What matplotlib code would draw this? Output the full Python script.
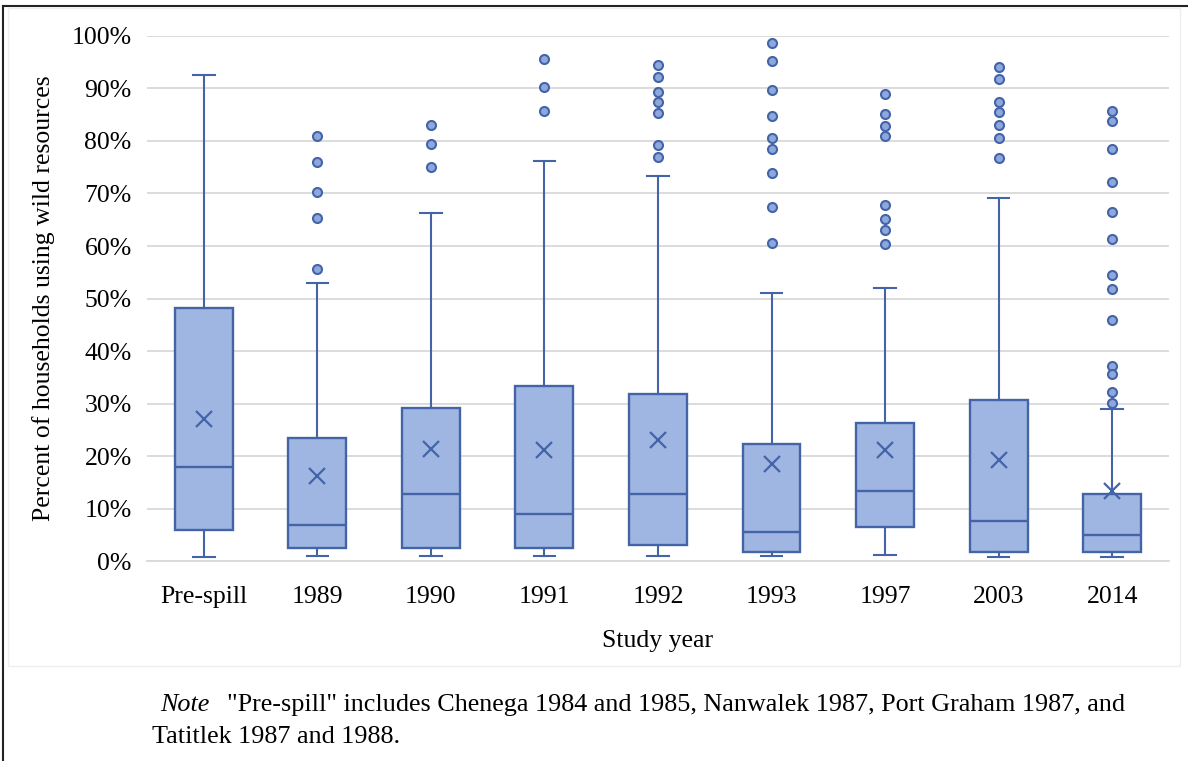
import matplotlib
matplotlib.use("Agg")
import matplotlib.pyplot as plt
from matplotlib.ticker import PercentFormatter
from matplotlib.patches import Rectangle
from matplotlib.lines import Line2D

plt.rcParams['font.family'] = ['Liberation Serif', 'DejaVu Serif']

# box plot summary values (percent of households)
years = ["Pre-spill", "1989", "1990", "1991", "1992", "1993", "1997", "2003", "2014"]
whisker_low = [0.8, 0.9, 0.9, 0.9, 1.0, 0.9, 1.2, 0.7, 0.7]
q1 = [5.9, 2.5, 2.5, 2.5, 3.0, 1.7, 6.4, 1.7, 1.8]
median = [17.9, 6.8, 12.8, 9.0, 12.8, 5.5, 13.4, 7.6, 4.9]
q3 = [48.1, 23.4, 29.1, 33.3, 31.9, 22.2, 26.2, 30.6, 12.8]
whisker_high = [92.5, 53.0, 66.3, 76.2, 73.3, 51.1, 52.0, 69.1, 29.0]
means = [27.1, 16.1, 21.4, 21.2, 23.0, 18.5, 21.1, 19.2, 13.4]
outliers = [
    [],
    [80.9, 76.0, 70.2, 65.4, 55.7],
    [83.1, 79.5, 75.1],
    [95.7, 90.2, 85.7],
    [94.5, 92.2, 89.4, 87.5, 85.4, 79.3, 77.0],
    [98.6, 95.2, 89.8, 84.8, 80.5, 78.5, 73.9, 67.5, 60.5],
    [89.0, 85.1, 82.9, 80.9, 67.9, 65.1, 63.0, 60.4],
    [94.1, 91.9, 87.5, 85.6, 83.1, 80.6, 76.8],
    [85.8, 83.8, 78.4, 72.2, 66.4, 61.3, 54.4, 51.8, 46.0, 37.1, 35.7, 32.1, 30.1],
]

edge = '#4464A8'
fill = '#A0B6E2'

stats = []
for i, y in enumerate(years):
    stats.append(dict(label=y, whislo=whisker_low[i], q1=q1[i], med=median[i],
                      q3=q3[i], whishi=whisker_high[i], mean=means[i],
                      fliers=outliers[i]))

fig = plt.figure(figsize=(11.88, 7.61), dpi=100)
ax = fig.add_axes([0.1237, 0.2628, 0.8603, 0.6899])

ax.bxp(stats, positions=range(len(years)), widths=0.51, capwidths=0.19,
       patch_artist=True, showmeans=True,
       boxprops=dict(facecolor=fill, edgecolor=edge, linewidth=1.7),
       medianprops=dict(color=edge, linewidth=1.7),
       whiskerprops=dict(color=edge, linewidth=1.5),
       capprops=dict(color=edge, linewidth=1.5),
       meanprops=dict(marker='x', markeredgecolor=edge, markersize=12,
                      markeredgewidth=1.6),
       flierprops=dict(marker='o', markerfacecolor='#8FA8DC', markeredgecolor=edge,
                       markersize=6.5, markeredgewidth=1.5))

ax.set_ylim(0, 100)
ax.set_xlim(-0.5, len(years) - 0.5)
ax.set_yticks(range(0, 101, 10))
ax.yaxis.set_major_formatter(PercentFormatter(decimals=0))
ax.grid(axis='y', color='#D9D9D9', linewidth=1.3)
ax.set_axisbelow(True)
for s in ['top', 'right', 'left']:
    ax.spines[s].set_visible(False)
ax.spines['bottom'].set_color('#D9D9D9')
ax.spines['bottom'].set_linewidth(1.3)
ax.tick_params(length=0, labelsize=18.5, colors='black')
ax.tick_params(axis='y', pad=11)
ax.tick_params(axis='x', pad=18)
ax.set_xticklabels(years)
ax.set_ylabel("Percent of households using wild resources", fontsize=18.5, labelpad=12)
ax.set_xlabel("Study year", fontsize=18.5, labelpad=16)

# faint chart area box and outer frame
fig.patches.append(Rectangle((8 / 1188, 1 - 666 / 761), 1172 / 1188, 658 / 761,
                             transform=fig.transFigure, fill=False,
                             edgecolor='#EEEEEE', linewidth=1.0))
fig.lines.append(Line2D([3 / 1188, 1], [1 - 6 / 761, 1 - 6 / 761],
                        transform=fig.transFigure, color='#222222', linewidth=1.5))
fig.lines.append(Line2D([3 / 1188, 3 / 1188], [0, 1 - 6 / 761],
                        transform=fig.transFigure, color='#222222', linewidth=1.5))

note = fig.text(160 / 1188, 1 - 705 / 761, "Note", fontsize=18.8, style='italic', va='center')
bb = note.get_window_extent(renderer=fig.canvas.get_renderer())
fig.text((bb.x1 + 18) / 1188, 1 - 705 / 761,
         "\"Pre-spill\" includes Chenega 1984 and 1985, Nanwalek 1987, Port Graham 1987, and",
         fontsize=18.8, va='center')
fig.text(152 / 1188, 1 - 737 / 761, "Tatitlek 1987 and 1988.", fontsize=18.8, va='center')

fig.savefig("out.png", dpi=100)
